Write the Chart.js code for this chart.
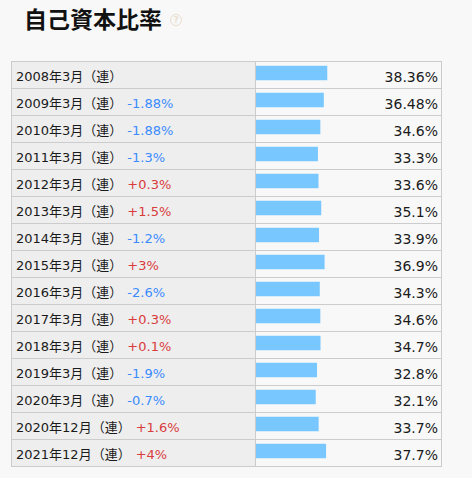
<!DOCTYPE html>
<html>
<head>
<meta charset="utf-8">
<script src="https://cdn.jsdelivr.net/npm/chart.js@4"></script>
<style>
  html, body { margin:0; padding:0; background:#f8f8f8; width:472px; height:478px; overflow:hidden; }
  body { font-family: "DejaVu Sans", "Noto Sans CJK JP", sans-serif; color:#1a1a1a; position:relative; }
  #title { position:absolute; left:24px; top:6px; font-family:"Noto Sans CJK JP", sans-serif; font-weight:bold; font-size:23px; line-height:24px; color:#111; margin:0; }
  #help { position:absolute; left:170px; top:14px; width:10px; height:10px; border:1.5px solid #e8dfcf; border-radius:50%; color:#e8dfcf; font-size:9px; line-height:10px; text-align:center; font-weight:bold; font-family:"DejaVu Sans", sans-serif; }
  #tbl { position:absolute; left:11px; top:61px; width:431px; border:1px solid #cccccc; box-sizing:border-box; }
  .row { display:flex; height:26px; }
  .row + .row { border-top:1px solid #cccccc; }
  .lab { width:239px; border-right:1px solid #cccccc; background:#eeeeee; padding-left:4px; box-sizing:content-box; font-size:13px; line-height:24px; padding-top:3px; height:23px; white-space:nowrap; overflow:hidden; }
  .chg { margin-left:5px; font-size:13px; }
  .neg { color:#3b8bff; }
  .pos { color:#d93c3c; }
  .val { width:182px; padding-right:3px; text-align:right; font-size:14px; line-height:24px; padding-top:3px; height:23px; white-space:nowrap; }
  #wrap { position:absolute; left:256px; top:59px; width:185px; height:406px; }
</style>
</head>
<body>
<h1 id="title">自己資本比率</h1>
<div id="help">?</div>
<div id="tbl"></div>
<div id="wrap"><canvas id="c"></canvas></div>
<script>
const periods = ['2008年3月','2009年3月','2010年3月','2011年3月','2012年3月','2013年3月','2014年3月','2015年3月','2016年3月','2017年3月','2018年3月','2019年3月','2020年3月','2020年12月','2021年12月'];
const changes = [null,-1.88,-1.88,-1.3,0.3,1.5,-1.2,3,-2.6,0.3,0.1,-1.9,-0.7,1.6,4];
const ratios = [38.36,36.48,34.6,33.3,33.6,35.1,33.9,36.9,34.3,34.6,34.7,32.8,32.1,33.7,37.7];
const suffix = '（連）';

const tbl = document.getElementById('tbl');
periods.forEach((p, i) => {
  const row = document.createElement('div');
  row.className = 'row';
  const lab = document.createElement('div');
  lab.className = 'lab';
  lab.textContent = p + suffix;
  const c = changes[i];
  if (c !== null) {
    const s = document.createElement('span');
    s.className = 'chg ' + (c < 0 ? 'neg' : 'pos');
    s.textContent = (c > 0 ? '+' : '') + c + '%';
    lab.appendChild(s);
  }
  const val = document.createElement('div');
  val.className = 'val';
  val.textContent = ratios[i] + '%';
  row.appendChild(lab);
  row.appendChild(val);
  tbl.appendChild(row);
});

new Chart(document.getElementById('c'), {
  type: 'bar',
  data: {
    labels: periods,
    datasets: [{ data: ratios, backgroundColor: '#78c8ff', borderWidth: 0, barThickness: 14 }]
  },
  options: {
    indexAxis: 'y',
    responsive: true,
    maintainAspectRatio: false,
    animation: false,
    layout: { padding: { top: 0.5, bottom: 0.5, left: 0, right: 0 } },
    scales: {
      x: { display: false, min: 0, max: 100 },
      y: { display: false }
    },
    plugins: { legend: { display: false }, tooltip: { enabled: false } }
  }
});
</script>
</body>
</html>
